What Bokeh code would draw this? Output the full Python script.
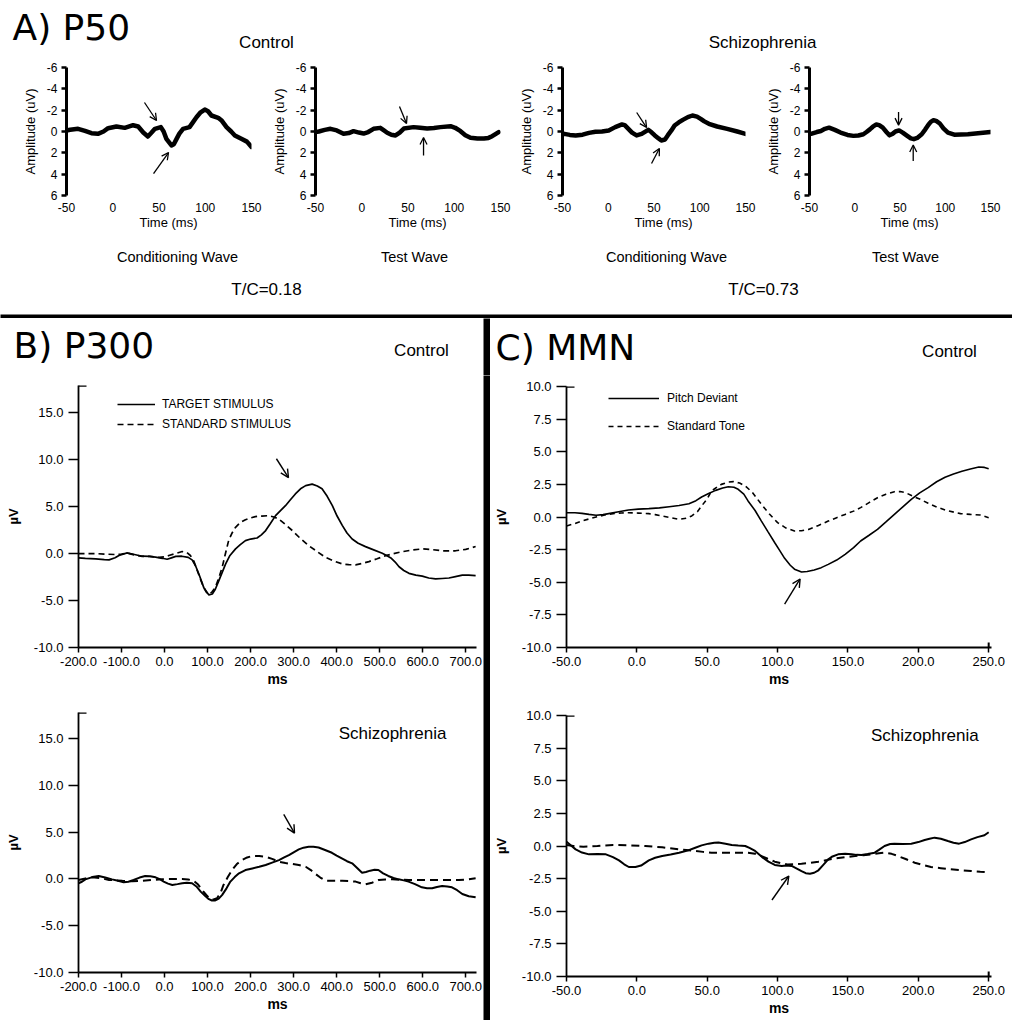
from bokeh.plotting import figure
from bokeh.layouts import row, column
from bokeh.models import (Range1d, FixedTicker, Label, Arrow, OpenHead, Legend,
                          LegendItem, PrintfTickFormatter)
from bokeh.embed import file_html
from bokeh.resources import INLINE
import math

SANS = "Liberation Sans"
HEAD = "DejaVu Sans"

# ---------------- data (time ms, amplitude uV) ----------------
A_CTRL_COND = [(-50,-0.1),(-46,-0.16),(-37.5,-0.25),(-30,-0.05),(-23,0.16),(-16,0.22),(-10,0.0),(-5,-0.31),
               (4,-0.47),(13,-0.34),(22,-0.59),(27.5,-0.47),(33,0.1),(38,0.47),(42,0.1),(45.6,-0.25),(52,-0.41),
               (55,0.0),(58,0.69),(63.5,1.31),(66,1.2),(69,0.69),(72,0.2),(76,-0.25),(83,-0.41),(87,-0.9),
               (90.5,-1.34),(95,-1.8),(99.5,-2.06),(103,-1.9),(106.7,-1.5),(114,-1.28),(118,-1.0),(123,-0.41),
               (128,0.0),(132,0.37),(139,0.69),(145,0.95),(150,1.45)]
A_CTRL_TEST = [(-50,0.05),(-46.4,0.0),(-40,-0.15),(-33.8,-0.25),(-27,-0.1),(-19.7,0.22),(-14,0.15),(-8.9,-0.03),
               (-3,0.1),(2,0.19),(7,0.05),(12.7,-0.25),(20,-0.34),(24,-0.1),(27.5,0.12),(32,0.3),(36.5,0.37),
               (41,0.1),(45.5,-0.28),(56,-0.41),(63,-0.35),(70.7,-0.28),(78,-0.33),(85,-0.41),(96,-0.5),
               (101,-0.35),(106.8,-0.03),(112,0.35),(117.6,0.59),(125,0.65),(132,0.66),(137,0.6),(141,0.44),
               (145,0.22),(148,0.06)]
A_SCZ_COND = [(-50,0.25),(-48,0.22),(-42,0.32),(-35.6,0.38),(-28,0.3),(-21,0.13),(-14,0.03),(-6.8,0.0),
              (0.5,-0.09),(7.6,-0.41),(15,-0.66),(18,-0.6),(22,-0.25),(26,0.1),(31,0.37),(36.5,0.22),
              (43.7,-0.16),(47,0.05),(50.9,0.37),(55,0.65),(58,0.84),(62,0.75),(65,0.37),(69,-0.1),(72.5,-0.56),
              (77,-0.85),(81.5,-1.09),(87,-1.35),(92,-1.5),(97,-1.4),(101,-1.19),(105,-0.95),(110,-0.72),
              (119,-0.47),(130,-0.25),(141,0.0),(150,0.22)]
A_SCZ_TEST = [(-50,0.2),(-47.5,0.2),(-42,0.05),(-37.4,-0.05),(-33,-0.25),(-28.4,-0.36),(-22,-0.15),(-15.7,0.1),
              (-8,0.32),(-1.4,0.41),(4,0.38),(9.5,0.26),(13,0.05),(16.7,-0.2),(20,-0.45),(23.9,-0.66),(27,-0.6),
              (31,-0.36),(35,0.05),(38.3,0.36),(42,0.2),(45,0.0),(49,-0.1),(53,0.1),(58,0.41),(62,0.65),
              (65.3,0.72),(69,0.6),(74,0.26),(78,-0.2),(81.6,-0.66),(84,-0.9),(87,-1.06),(90,-1.0),(94,-0.75),
              (98,-0.3),(103,0.1),(110,0.3),(125,0.26),(139,0.15),(150,0.05)]

B_CTRL_TARGET = [(-200,-0.45),(-184,-0.5),(-160,-0.56),(-140,-0.65),(-129,-0.67),(-115,-0.45),(-106,-0.2),
                 (-87,0.07),(-70,-0.1),(-52,-0.28),(-35,-0.3),(-21,-0.38),(-5,-0.5),(6,-0.6),(16,-0.45),(26,-0.3),
                 (40,-0.28),(55,-0.4),(64,-0.67),(72,-1.3),(80,-2.2),(91,-3.6),(103,-4.4),(111,-4.3),(118,-3.8),
                 (126,-2.9),(134,-2.0),(142,-1.1),(152,-0.2),(165,0.5),(176,0.95),(188,1.38),(200,1.55),
                 (215,1.66),(225,2.0),(235,2.45),(246,3.2),(258,4.04),(270,4.6),(281,5.1),(292,5.7),(304,6.35),
                 (316,6.9),(328,7.24),(343,7.4),(355,7.2),(366,6.9),(378,6.1),(390,5.1),(401,4.0),(413,3.0),
                 (424,2.2),(436,1.56),(450,1.1),(467,0.74),(486,0.4),(506,0.04),(516,-0.2),(526,-0.46),
                 (536,-0.9),(545,-1.4),(556,-1.8),(568,-2.1),(584,-2.3),(599,-2.4),(614,-2.6),(630,-2.7),
                 (645,-2.65),(661,-2.6),(676,-2.45),(692,-2.3),(707,-2.3),(723,-2.35)]
B_CTRL_STANDARD = [(-200,0.0),(-180,0.0),(-160,0.0),(-140,-0.05),(-114,-0.1),(-100,-0.05),(-87,0.05),(-70,-0.15),
                   (-52,-0.3),(-35,-0.3),(-13,-0.4),(0,-0.35),(10,-0.2),(25,0.0),(41,0.22),(52,0.1),(60,-0.2),
                   (68,-0.8),(76,-1.8),(84,-2.8),(91,-3.6),(97,-4.1),(103,-4.35),(110,-4.1),(118,-3.6),
                   (126,-2.6),(134,-1.45),(141,-0.1),(149,1.4),(157,2.2),(165,2.8),(176,3.3),(188,3.6),(200,3.8),
                   (211,3.94),(226,4.0),(242,4.04),(254,3.9),(265,3.7),(281,3.1),(297,2.45),(316,1.6),(335,0.85),
                   (355,0.2),(374,-0.4),(394,-0.8),(413,-1.1),(428,-1.18),(444,-1.2),(460,-1.05),(475,-0.85),
                   (494,-0.55),(514,-0.22),(532,0.0),(552,0.2),(575,0.38),(599,0.5),(622,0.42),(645,0.3),
                   (676,0.3),(700,0.45),(723,0.75)]
B_SCZ_TARGET = [(-200,-0.46),(-192,-0.3),(-184,-0.04),(-168,0.2),(-153,0.32),(-138,0.15),(-122,-0.04),
                (-108,-0.2),(-95,-0.36),(-84,-0.3),(-72,-0.11),(-58,0.15),(-45,0.32),(-33,0.3),(-21,0.18),
                (-10,-0.05),(-2,-0.28),(8,-0.5),(18,-0.64),(30,-0.55),(41,-0.46),(52,-0.4),(64,-0.46),(74,-0.8),
                (84,-1.35),(94,-1.8),(103,-2.16),(110,-2.3),(118,-2.3),(126,-2.1),(134,-1.7),(144,-1.0),
                (153,-0.28),(163,0.2),(173,0.6),(188,0.95),(204,1.13),(220,1.3),(235,1.49),(250,1.75),
                (266,2.02),(278,2.3),(289,2.55),(300,2.85),(312,3.16),(323,3.35),(335,3.44),(346,3.45),
                (358,3.37),(373,3.1),(389,2.8),(400,2.5),(412,2.2),(424,1.9),(436,1.67),(447,1.2),(459,0.67),
                (468,0.75),(478,0.89),(488,0.98),(497,0.96),(508,0.6),(520,0.32),(532,0.1),(544,-0.04),
                (556,-0.15),(567,-0.28),(582,-0.55),(598,-0.89),(610,-0.98),(622,-1.0),(633,-0.85),(645,-0.74),
                (657,-0.8),(668,-0.89),(680,-1.2),(692,-1.6),(707,-1.85),(723,-1.95)]
B_SCZ_STANDARD = [(-200,-0.1),(-184,0.05),(-168,0.18),(-150,0.1),(-129,-0.1),(-114,-0.15),(-98,-0.2),(-75,-0.25),
                  (-52,-0.2),(-30,-0.1),(-6,-0.04),(20,0.0),(41,0.0),(55,-0.05),(68,-0.2),(78,-0.6),(87,-1.17),
                  (97,-1.7),(106,-2.16),(114,-2.2),(122,-2.06),(130,-1.5),(137,-0.64),(147,0.2),(157,0.96),
                  (168,1.6),(180,2.02),(192,2.3),(204,2.45),(220,2.45),(235,2.38),(250,2.15),(266,1.84),
                  (281,1.7),(297,1.6),(312,1.5),(328,1.31),(340,0.95),(351,0.53),(362,0.15),(374,-0.18),
                  (394,-0.2),(413,-0.2),(428,-0.22),(444,-0.28),(456,-0.45),(467,-0.57),(482,-0.4),(498,-0.1),
                  (513,-0.05),(529,-0.04),(548,-0.08),(568,-0.1),(606,-0.1),(645,-0.1),(684,-0.1),(705,-0.05),
                  (723,0.07)]

C_CTRL_DEVIANT = [(-50,0.33),(-44,0.32),(-39,0.28),(-34,0.2),(-29,0.13),(-24,0.18),(-20,0.26),(-13,0.4),(-6,0.54),
                  (1,0.6),(8.5,0.64),(16,0.7),(23,0.79),(30,0.88),(37,1.02),(42,1.25),(46,1.53),(51,1.8),
                  (56,2.04),(61,2.22),(65,2.32),(69,2.28),(72,2.12),(76,1.75),(79,1.23),(84,0.5),(88.5,-0.31),
                  (93,-1.1),(98,-1.97),(102,-2.65),(105,-3.17),(109,-3.7),(112,-4.0),(117,-4.22),(121,-4.18),
                  (126,-4.06),(131,-3.88),(136,-3.63),(142,-3.3),(148,-2.86),(154,-2.35),(159,-1.84),(165,-1.4),
                  (171,-0.95),(177,-0.38),(183,0.2),(189,0.78),(195,1.35),(201,1.85),(207,2.25),(213,2.7),
                  (219,3.05),(225,3.3),(231,3.5),(237,3.68),(243,3.83),(247,3.8),(250,3.7)]
C_CTRL_STANDARD = [(-50,-0.69),(-44,-0.5),(-39,-0.3),(-34,-0.15),(-29,0.0),(-23,0.15),(-17,0.26),(-11,0.31),
                   (-6,0.33),(1,0.3),(8.5,0.26),(13,0.18),(18,0.08),(24,-0.05),(30,-0.18),(35,-0.1),(39,0.08),
                   (43,0.4),(46,0.84),(50,1.4),(53,1.99),(57,2.3),(60,2.5),(65,2.68),(68.6,2.71),(73,2.6),
                   (77,2.38),(82,1.9),(88.5,0.97),(94,0.25),(100,-0.43),(106,-0.85),(112,-1.07),(117,-1.05),
                   (122,-0.95),(129,-0.65),(136,-0.31),(142,-0.05),(148,0.2),(154,0.45),(159,0.72),(165,1.1),
                   (171,1.48),(177,1.75),(183,1.94),(187,1.95),(191,1.86),(196,1.6),(201.5,1.35),(207,1.05),
                   (213,0.77),(220,0.5),(230,0.26),(237,0.2),(244,0.15),(250,-0.05)]
C_SCZ_DEVIANT = [(-50,0.33),(-47,0.05),(-43.5,-0.26),(-39,-0.5),(-34,-0.64),(-28,-0.62),(-22,-0.64),(-17,-0.85),
                 (-12.7,-1.1),(-9,-1.4),(-5.7,-1.61),(-1,-1.61),(3,-1.5),(8.5,-1.1),(13,-0.9),(18,-0.77),
                 (24,-0.65),(30,-0.51),(36,-0.35),(41.5,-0.13),(46,0.05),(51,0.18),(55,0.25),(58,0.26),(63,0.18),
                 (67.4,0.08),(72,0.03),(77,0.0),(80,-0.15),(84,-0.38),(89,-0.85),(93.5,-1.2),(98,-1.45),
                 (103,-1.53),(106,-1.5),(110,-1.53),(114,-1.75),(117,-1.92),(120,-2.08),(123,-2.12),(126,-2.05),
                 (129,-1.86),(132,-1.5),(136,-1.02),(139,-0.8),(143,-0.64),(148,-0.6),(152.6,-0.64),(156,-0.68),
                 (159.6,-0.69),(164,-0.62),(169,-0.51),(172,-0.3),(176,0.0),(180,0.15),(183,0.18),(189,0.15),
                 (195,0.18),(200,0.3),(204.5,0.46),(208,0.55),(211.6,0.64),(216,0.55),(221,0.38),(225,0.25),
                 (229,0.18),(233,0.3),(237.5,0.51),(242,0.68),(247,0.82),(250,1.05)]
C_SCZ_STANDARD = [(-50,0.08),(-45,0.0),(-38,-0.05),(-28,0.0),(-17,0.08),(-5,0.05),(6,0.0),(18,-0.1),(29.7,-0.26),
                  (35,-0.3),(41.5,-0.38),(47,-0.45),(53,-0.51),(65,-0.51),(79,-0.51),(84,-0.6),(88.5,-0.77),
                  (93,-0.98),(98,-1.2),(103,-1.33),(107,-1.41),(112,-1.4),(117,-1.36),(123,-1.3),(129,-1.2),
                  (135,-1.08),(140.6,-0.95),(148,-0.85),(155,-0.77),(161,-0.7),(166.7,-0.64),(172,-0.56),
                  (176,-0.51),(181,-0.6),(185.6,-0.77),(191,-1.0),(197.5,-1.28),(203,-1.45),(209,-1.61),
                  (216,-1.7),(223,-1.79),(230,-1.85),(237.5,-1.92),(244,-1.98),(250,-2.02)]

A_YTICKS = [-6, -4, -2, 0, 2, 4, 6]
A_XTICKS = [-50, 0, 50, 100, 150]
B_YTICKS = [-10, -5, 0, 5, 10, 15]
B_XTICKS = [-200, -100, 0, 100, 200, 300, 400, 500, 600, 700]
C_YTICKS = [-10, -7.5, -5, -2.5, 0, 2.5, 5, 7.5, 10]
C_XTICKS = [-50, 0, 50, 100, 150, 200, 250]

# arrow annotations (x0, y0, x1, y1) in data units
A_ARROWS = [
    [(34.3, -2.72, 47.3, -1.03), (44.1, 3.94, 60.3, 1.97)],
    [(40.8, -2.34, 48.4, -0.75), (66.8, 2.25, 66.8, 0.56)],
    [(31.1, -1.78, 41.9, -0.37), (47.3, 3.0, 55.9, 1.59)],
    [(48.4, -1.83, 48.4, -0.6), (64.6, 2.76, 64.6, 1.26)],
]
B_ARROWS = [(260, 10.1, 288, 8.1), (277, 6.9, 302, 4.9)]
C_ARROWS = [(105, -6.67, 116, -4.75), (96, -4.14, 108, -2.3)]


def split(series):
    return [p[0] for p in series], [p[1] for p in series]


def clean(p):
    for g in list(p.xgrid) + list(p.ygrid):
        g.visible = False
    p.outline_line_color = None
    p.background_fill_color = "white"
    p.border_fill_color = "white"


def strip(w, h, black=False):
    p = figure(width=w, height=h, x_range=Range1d(0, w), y_range=Range1d(h, 0), title=None,
               output_backend="svg", toolbar_location=None, min_border=0,
               x_axis_location=None, y_axis_location=None)
    clean(p)
    if black:
        p.background_fill_color = "black"
        p.border_fill_color = "black"
    return p


def txt(p, x, y, text, size, font=SANS, align="center"):
    p.add_layout(Label(x=x, y=y, text=text, text_font=font, text_font_size="%gpx" % size,
                       text_align=align, text_baseline="alphabetic", text_color="black"))


def strip_txt(p, x, baseline, text, size, font=SANS, align="center"):
    txt(p, x, baseline - 0.35 * size, text, size, font=font, align=align)


def add_arrow(p, a, lw=1.3, size=7):
    p.add_layout(Arrow(x_start=a[0], y_start=a[1], x_end=a[2], y_end=a[3], line_width=lw,
                       line_color="black", end=OpenHead(size=size, line_width=lw, line_color="black")))


# ---------------- Panel A ----------------
top = strip(1012, 55)
strip_txt(top, 12, 40, "A) P50", 36, font=HEAD, align="left")
strip_txt(top, 266, 48, "Control", 17)
strip_txt(top, 762, 48, "Schizophrenia", 17)

A_GEOM = [(265, 66, 14), (250, 50, 15), (247, 45, 17), (250, 43, 22)]
A_SERIES = [A_CTRL_COND, A_CTRL_TEST, A_SCZ_COND, A_SCZ_TEST]
subs = []
for (w, l, r), ser, arrs in zip(A_GEOM, A_SERIES, A_ARROWS):
    p = figure(width=w, height=161, x_range=Range1d(-50, 150), y_range=Range1d(6, -6), title=None,
               output_backend="svg", toolbar_location=None,
               min_border_left=l, min_border_right=r, min_border_top=12, min_border_bottom=21)
    clean(p)
    ya = p.yaxis[0]
    ya.ticker = FixedTicker(ticks=A_YTICKS)
    ya.formatter = PrintfTickFormatter(format="%d")
    ya.axis_line_width = 3
    ya.major_tick_line_width = 2.5
    ya.major_tick_out = 5
    ya.major_tick_in = 0
    ya.minor_tick_line_color = None
    ya.major_label_text_font = SANS
    ya.major_label_text_font_size = "12px"
    ya.major_label_text_color = "black"
    ya.major_label_standoff = 4
    ya.axis_label = "Amplitude (uV)"
    ya.axis_label_text_font = SANS
    ya.axis_label_text_font_size = "13px"
    ya.axis_label_text_font_style = "normal"
    ya.axis_label_text_color = "black"
    ya.axis_label_standoff = 6
    xa = p.xaxis[0]
    xa.ticker = FixedTicker(ticks=A_XTICKS)
    xa.formatter = PrintfTickFormatter(format="%d")
    xa.axis_line_color = None
    xa.major_tick_line_color = None
    xa.minor_tick_line_color = None
    xa.major_tick_out = 0
    xa.major_tick_in = 0
    xa.major_label_standoff = 7
    xa.major_label_text_font = SANS
    xa.major_label_text_font_size = "12px"
    xa.major_label_text_color = "black"
    t, v = split(ser)
    p.line(t, v, line_width=4.5, line_color="black", line_join="round", line_cap="round")
    for a in arrs:
        add_arrow(p, a)
    subs.append(p)

mid = strip(1012, 94)
for cx in (168, 417, 663, 909):
    strip_txt(mid, cx, 11, "Time (ms)", 13)
strip_txt(mid, 177, 46, "Conditioning Wave", 14.5)
strip_txt(mid, 414, 46, "Test Wave", 14.5)
strip_txt(mid, 666, 46, "Conditioning Wave", 14.5)
strip_txt(mid, 905, 46, "Test Wave", 14.5)
strip_txt(mid, 266, 79, "T/C=0.18", 17)
strip_txt(mid, 763, 79, "T/C=0.73", 17)

hbar = strip(1012, 8, black=True)

# title strip above panels B and C (page y 318..375)
bhead = strip(483, 57)
strip_txt(bhead, 13, 40, "B) P300", 36, font=HEAD, align="left")
strip_txt(bhead, 421, 38, "Control", 17)
vbar_head = strip(7, 57, black=True)
chead = strip(522, 57)
strip_txt(chead, 5, 42, "C) MMN", 36, font=HEAD, align="left")
strip_txt(chead, 459, 39, "Control", 17)
vbar_body = strip(7, 645, black=True)


# ---------------- Panels B and C ----------------
def erp(g, xticks, yticks, solid, dashed, dash, lw, arrow, xcap):
    p = figure(width=g["w"], height=g["h"], x_range=Range1d(*g["xr"]), y_range=Range1d(*g["yr"]),
               title=None, output_backend="svg", toolbar_location=None,
               min_border_left=g["l"], min_border_right=g["r"], min_border_top=g["t"],
               min_border_bottom=g["b"])
    clean(p)
    ya = p.yaxis[0]
    ya.ticker = FixedTicker(ticks=yticks)
    ya.formatter = PrintfTickFormatter(format="%.1f")
    ya.major_tick_out = 10
    ya.major_tick_in = 0
    xa = p.xaxis[0]
    xa.ticker = FixedTicker(ticks=xticks)
    xa.formatter = PrintfTickFormatter(format="%.1f")
    xa.major_tick_out = 5
    xa.major_tick_in = 0
    for ax in (xa, ya):
        ax.axis_line_width = 1.8
        ax.major_tick_line_width = 1.5
        ax.minor_tick_line_color = None
        ax.major_label_text_font = SANS
        ax.major_label_text_font_size = "13px"
        ax.major_label_text_color = "black"
        ax.axis_label_text_font = SANS
        ax.axis_label_text_font_style = "bold"
        ax.axis_label_text_color = "black"
    ya.major_label_standoff = 5
    ya.axis_label = "µV"
    ya.axis_label_text_font_size = "13px"
    ya.axis_label_standoff = 10
    xa.major_label_standoff = 4
    xa.axis_label = "ms"
    xa.axis_label_text_font_size = "14px"
    xa.axis_label_standoff = 2
    ts, vs = split(solid)
    td, vd = split(dashed)
    r1 = p.line(ts, vs, line_width=lw, line_color="black")
    r2 = p.line(td, vd, line_width=lw, line_color="black", line_dash=dash)
    # end caps of the axes
    x0, x1 = g["xr"]
    y0, y1 = g["yr"]
    p.scatter([x0], [y1], marker="dash", size=16, line_width=2.5, line_color="black")
    if xcap is not None:
        p.scatter([xcap], [y0], marker="dash", size=10, angle=math.pi / 2, line_width=2,
                  line_color="black")
    add_arrow(p, arrow, lw=1.4, size=8)
    return p, r1, r2


def page_txt(p, g, px, baseline, text, size, font=SANS, align="center"):
    fl = g["ox"] + g["l"]
    fr = g["ox"] + g["w"] - g["r"]
    ft = g["oy"] + g["t"]
    fb = g["oy"] + g["h"] - g["b"]
    x0, x1 = g["xr"]
    y0, y1 = g["yr"]
    py = baseline - 0.35 * size
    x = x0 + (px - fl) / (fr - fl) * (x1 - x0)
    y = y0 + (fb - py) / (fb - ft) * (y1 - y0)
    txt(p, x, y, text, size, font=font, align=align)


G_BT = dict(ox=0, oy=375, w=483, h=320, l=78, r=7, t=10, b=48, xr=(-200, 725), yr=(-10, 17.9))
G_BB = dict(ox=0, oy=695, w=483, h=325, l=78, r=7, t=17, b=48, xr=(-200, 725), yr=(-10, 17.8))
G_CT = dict(ox=490, oy=375, w=522, h=320, l=74, r=21, t=11, b=48, xr=(-50, 252), yr=(-10, 10))
G_CB = dict(ox=490, oy=695, w=522, h=325, l=74, r=21, t=20, b=44, xr=(-50, 252), yr=(-10, 10))

bt, r1, r2 = erp(G_BT, B_XTICKS, B_YTICKS, B_CTRL_TARGET, B_CTRL_STANDARD, "6 4", 1.7, B_ARROWS[0], None)
bt.add_layout(Legend(items=[LegendItem(label="TARGET STIMULUS", renderers=[r1]),
                            LegendItem(label="STANDARD STIMULUS", renderers=[r2])],
                     location=(39, 213), glyph_width=38, glyph_height=20, label_height=20, spacing=0,
                     padding=0, margin=0, label_standoff=7, border_line_color=None,
                     background_fill_alpha=0, label_text_font=SANS, label_text_font_size="12px",
                     label_text_color="black"))

bb, _, _ = erp(G_BB, B_XTICKS, B_YTICKS, B_SCZ_TARGET, B_SCZ_STANDARD, "8 5", 2.0, B_ARROWS[1], None)
page_txt(bb, G_BB, 392, 739, "Schizophrenia", 17)

ct, r3, r4 = erp(G_CT, C_XTICKS, C_YTICKS, C_CTRL_DEVIANT, C_CTRL_STANDARD, "5 4", 1.6, C_ARROWS[0], 250)
ct.add_layout(Legend(items=[LegendItem(label="Pitch Deviant", renderers=[r3]),
                            LegendItem(label="Standard Tone", renderers=[r4])],
                     location=(42, 211), glyph_width=51, glyph_height=20, label_height=20, spacing=8,
                     padding=0, margin=0, label_standoff=8, border_line_color=None,
                     background_fill_alpha=0, label_text_font=SANS, label_text_font_size="12px",
                     label_text_color="black"))

cb, _, _ = erp(G_CB, C_XTICKS, C_YTICKS, C_SCZ_DEVIANT, C_SCZ_STANDARD, "8 5", 2.0, C_ARROWS[1], 250)
page_txt(cb, G_CB, 924, 741, "Schizophrenia", 17)

heads = row(bhead, vbar_head, chead, spacing=0)
bodies = row(column(bt, bb, spacing=0), vbar_body, column(ct, cb, spacing=0), spacing=0)
layout = column(top, row(*subs, spacing=0), mid, hbar, heads, bodies, spacing=0)

open("out.html", "w").write(file_html(layout, INLINE))
